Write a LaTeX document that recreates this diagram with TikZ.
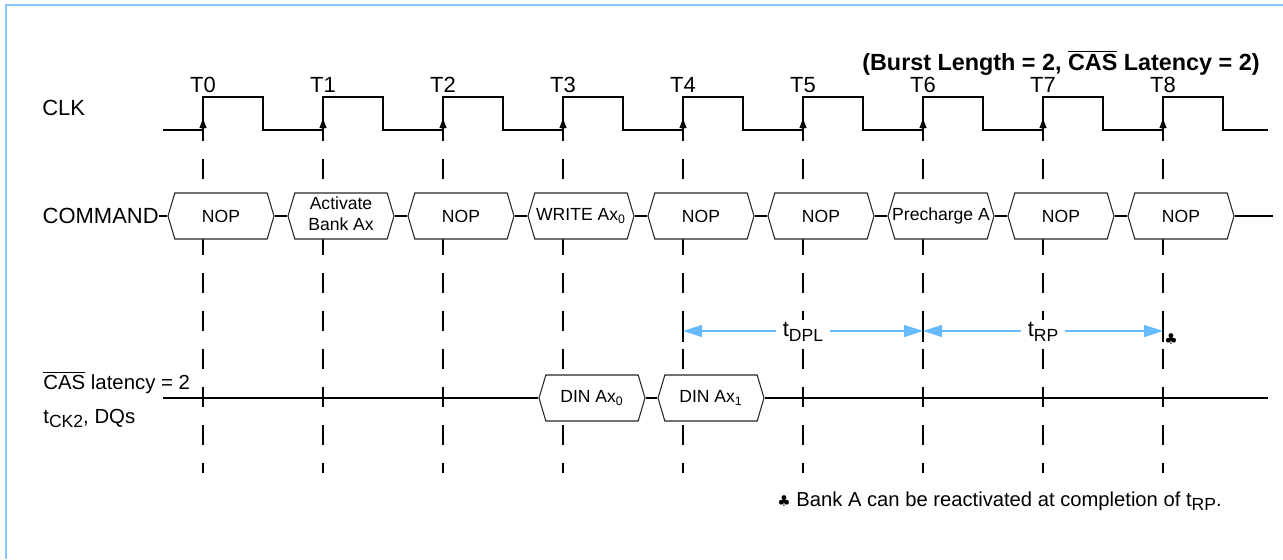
\documentclass[tikz,border=0pt]{standalone}
\usepackage{fontspec}
\setmainfont{Liberation Sans}
\newfontfamily\symfont{DejaVu Sans}
\usetikzlibrary{shapes.symbols,arrows.meta,positioning}

\definecolor{frameblue}{RGB}{136,200,255}
\definecolor{spanblue}{RGB}{102,187,255}
\newcommand{\lsub}[1]{\raisebox{-0.45ex}{\fontsize{10}{10}\selectfont #1}}

\begin{document}
\begin{tikzpicture}[x=0.02cm,y=-0.02cm]
	\tikzstyle{Label}	= [inner sep=0pt, font=\fontsize{12.5}{14}\selectfont]
	\tikzstyle{Bus}		= [signal, signal to=west and east, signal pointer angle=147, draw=black!85, fill=white, line width=0.6pt, minimum width=2.12cm, minimum height=0.92cm, inner sep=0pt, font=\fontsize{10}{10.8}\selectfont]
	\tikzstyle{Grid}	= [line width=0.7pt, dash pattern=on 0.4cm off 0.36cm]
	\tikzstyle{Wave}	= [line width=0.75pt]
	\tikzstyle{Edge}	= [line width=0.75pt, -{Latex[length=0.22cm,width=0.15cm]}]
	\tikzstyle{Span}	= [spanblue, line width=0.8pt, {Triangle[length=0.38cm,width=0.24cm]}-{Triangle[length=0.38cm,width=0.24cm]}]
	\tikzstyle{Mark}	= [line width=0.7pt]

	\useasboundingbox (0,0) rectangle (1283,559);
	\draw [frameblue, line width=1.2pt] (6,559) -- (6,5) -- (1283,5);

	% clock edges
	\foreach \i in {0,...,8}
		\draw [Grid] (203+120*\i,121) -- (203+120*\i,473);

	\draw [Wave] (163,130) -- (203,130);
	\foreach \i in {0,...,7}
		\draw [Wave] (203+120*\i,130) -- ++(0,-33) -- ++(60,0) -- ++(0,33) -- ++(60,0);
	\draw [Wave] (1163,130) -- (1163,97) -- (1223,97) -- (1223,130) -- (1268,130);
	\foreach \i in {0,...,8} {
		\draw [Edge] (203+120*\i,130) -- (203+120*\i,117);
		\node (t\i) at (203+120*\i,92) [Label, anchor=base] {T\i};
	}

	\node (title) at (1260,70) [Label, anchor=base east, font=\bfseries\fontsize{13.3}{15}\selectfont] {(Burst Length = 2, $\overline{\hbox{CAS}}$ Latency = 2)};
	\node (clk) at (42,115) [Label, anchor=base west] {CLK};

	% command bus
	\node (cmd) at (159,216) [Label, anchor=east] {COMMAND};
	\foreach \i/\txt in {0/NOP, 1/{\begin{tabular}{@{}c@{}}Activate\\[1pt]Bank Ax\end{tabular}}, 2/NOP, 3/{WRITE Ax\textsubscript{0}}, 4/NOP, 5/NOP, 6/{Precharge A}, 7/NOP, 8/NOP}
		\node (c\i) at (221+120*\i,216) [Bus] {\makebox[0pt]{\txt}};
	\coordinate (cend) at (1273,216);
	\draw [Wave] (cmd.east) -- (c0.west);
	\foreach \i [evaluate=\i as \j using int(\i+1)] in {0,...,7}
		\draw [Wave] (c\i.east) -- (c\j.west);
	\draw [Wave] (c8.east) -- (cend);

	% timing spans
	\coordinate (m4) at (683,331);
	\coordinate (m6) at (923,331);
	\coordinate (m8) at (1163,331);
	\foreach \x in {683,923,1163}
		\draw [Mark] (\x,316) -- (\x,342);
	\draw [Span] (m4) -- (m6);
	\draw [Span] (m6) -- (m8);
	\node (dpl) at (803,336) [Label, anchor=base, fill=white, inner xsep=4pt, inner ysep=1pt] {t\lsub{DPL}};
	\node (rp) at (1043,336) [Label, anchor=base, fill=white, inner xsep=4pt, inner ysep=1pt] {t\lsub{RP}};
	\node (club) at (1171,339) [inner sep=0pt, font=\symfont\fontsize{8.5}{9}\selectfont] {♣};

	% data bus
	\node (cas) at (43,389) [Label, anchor=base west, font=\fontsize{11.6}{14}\selectfont] {$\overline{\hbox{CAS}}$ latency = 2};
	\node (dqs) at (43,423) [Label, anchor=base west, font=\fontsize{11.6}{14}\selectfont] {t\lsub{CK2}, DQs};
	\coordinate (dqstart) at (163,398);
	\coordinate (dqend) at (1268,398);
	\node (d0) at (592,398) [Bus] {\makebox[0pt]{DIN Ax\textsubscript{0}}};
	\node (d1) at (711,398) [Bus] {\makebox[0pt]{DIN Ax\textsubscript{1}}};
	\draw [Wave] (dqstart) -- (d0.west);
	\draw [Wave] (d0.east) -- (d1.west);
	\draw [Wave] (d1.east) -- (dqend);

	\node (note) at (777,506) [Label, anchor=base west, font=\fontsize{11.5}{13}\selectfont] {{\symfont\fontsize{8.5}{9}\selectfont ♣} Bank A can be reactivated at completion of t\lsub{RP}.};
\end{tikzpicture}
\end{document}
